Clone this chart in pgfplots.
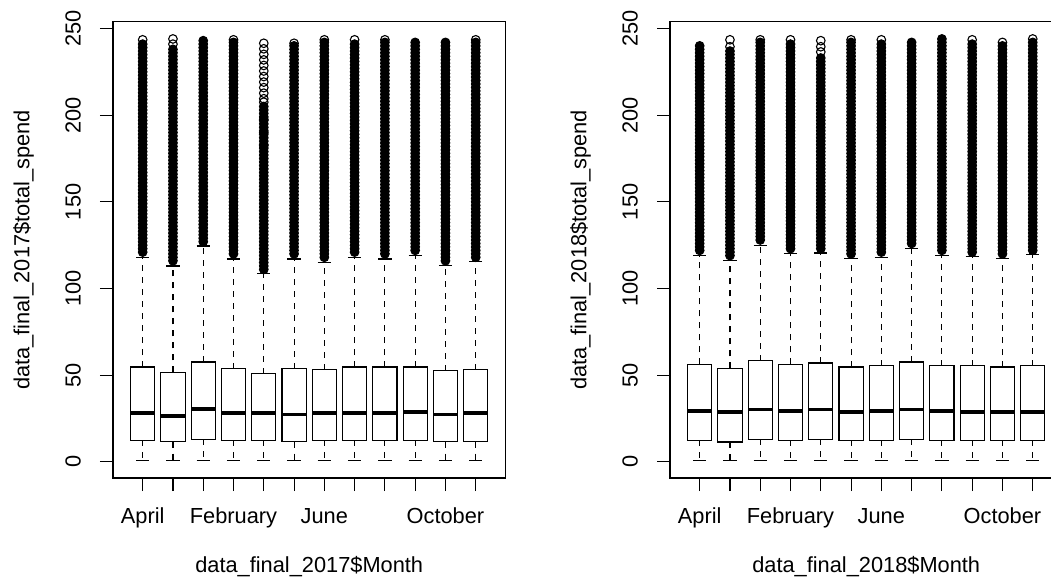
\documentclass[border=0pt]{standalone}
\usepackage{fontspec}
\setmainfont{Liberation Sans}
\usepackage{pgfplots}
\usepgfplotslibrary{statistics}
\pgfplotsset{compat=1.18}
\newcommand{\rfont}{\fontsize{21.8}{25}\selectfont}
\pgfplotsset{
  boxplot/draw/box/.code={\draw[line width=1.1pt] (boxplot box cs:\pgfplotsboxplotvalue{lower quartile},0) rectangle (boxplot box cs:\pgfplotsboxplotvalue{upper quartile},1);},
  boxplot/draw/median/.code={\draw[line width=3.6pt] (boxplot box cs:\pgfplotsboxplotvalue{median},0) -- (boxplot box cs:\pgfplotsboxplotvalue{median},1);},
  boxplot/draw/upper whisker/.code={%
    \draw[line width=1.1pt, dash pattern=on 6pt off 6pt] (boxplot box cs:\pgfplotsboxplotvalue{upper quartile},0.5) -- (boxplot box cs:\pgfplotsboxplotvalue{upper whisker},0.5);
    \draw[line width=1.1pt] (boxplot whisker cs:\pgfplotsboxplotvalue{upper whisker},0) -- (boxplot whisker cs:\pgfplotsboxplotvalue{upper whisker},1);},
  boxplot/draw/lower whisker/.code={%
    \draw[line width=1.1pt, dash pattern=on 6pt off 6pt] (boxplot box cs:\pgfplotsboxplotvalue{lower quartile},0.5) -- (boxplot box cs:\pgfplotsboxplotvalue{lower whisker},0.5);
    \draw[line width=1.1pt] (boxplot whisker cs:\pgfplotsboxplotvalue{lower whisker},0) -- (boxplot whisker cs:\pgfplotsboxplotvalue{lower whisker},1);},
  rpanel/.style={
    scale only axis, width=392.4pt, height=456.3pt,
    anchor=south west,
    xmin=0.02, xmax=12.98, ymin=-9.35, ymax=253.95,
    axis line style={line width=1.1pt},
    tick style={line width=1.1pt, black},
    tick align=outside, major tick length=13pt,
    tick pos=left,
    xtick={1,...,12},
    xticklabels={April,,,February,,,June,,,,October,},
    ytick={0,50,100,150,200,250},
    /pgf/number format/assume math mode=true,
    tick label style={font=\rfont},
    label style={font=\rfont},
    xticklabel style={anchor=base, inner sep=0pt, yshift=-32.5pt},
    yticklabel style={rotate=90, anchor=south, inner xsep=0pt, inner ysep=19pt},
    xlabel style={at={(axis description cs:0.5,0)}, anchor=base, inner sep=0pt, yshift=-94pt},
    ylabel style={at={(axis description cs:0,0.5)}, anchor=south, inner xsep=0pt, inner ysep=79pt},
    boxplot/draw direction=y,
    boxplot/box extend=0.8,
    boxplot/whisker extend=0.44,
  },
  rb/.style={black, mark=*, mark size=4.3pt, mark options={line width=1.1pt, fill=black, solid}},
  rh/.style={only marks, black, mark=o, mark size=4.3pt, mark options={line width=1.1pt, solid}},
}
\begin{document}
\begin{tikzpicture}[x=1pt,y=1pt]
\useasboundingbox (0,0) rectangle (1051,578);
\clip (0,0) rectangle (1051,578);
\begin{axis}[rpanel, at={(113pt,100pt)}, xlabel={data\_final\_2017\$Month}, ylabel={data\_final\_2017\$total\_spend}]
% April
\addplot[rb, boxplot prepared={draw position=1, lower whisker=0.6, lower quartile=12.4, median=28.2, upper quartile=54.7, upper whisker=118}] table[row sep=\\,y index=0]{121\\123\\125\\127\\129\\131\\133\\135\\137\\139\\141\\143\\145\\147\\149\\151\\153\\155\\157\\159\\161\\163\\165\\167\\169\\171\\173\\175\\177\\179\\181\\183\\185\\187\\189\\191\\193\\195\\197\\199\\201\\203\\205\\207\\209\\211\\213\\215\\217\\219\\221\\223\\225\\227\\229\\231\\233\\235\\237\\239\\241\\};
% August
\addplot[rb, boxplot prepared={draw position=2, lower whisker=0.6, lower quartile=11.6, median=26.4, upper quartile=51.6, upper whisker=113}] table[row sep=\\,y index=0]{116\\118\\120\\122\\124\\126\\128\\130\\132\\134\\136\\138\\140\\142\\144\\146\\148\\150\\152\\154\\156\\158\\160\\162\\164\\166\\168\\170\\172\\174\\176\\178\\180\\182\\184\\186\\188\\190\\192\\194\\196\\198\\200\\202\\204\\206\\208\\210\\212\\214\\216\\218\\220\\222\\224\\226\\228\\230\\232\\234\\236\\238\\};
% December
\addplot[rb, boxplot prepared={draw position=3, lower whisker=0.6, lower quartile=13.0, median=30.3, upper quartile=57.6, upper whisker=124.5}] table[row sep=\\,y index=0]{127\\129\\131\\133\\135\\137\\139\\141\\143\\145\\147\\149\\151\\153\\155\\157\\159\\161\\163\\165\\167\\169\\171\\173\\175\\177\\179\\181\\183\\185\\187\\189\\191\\193\\195\\197\\199\\201\\203\\205\\207\\209\\211\\213\\215\\217\\219\\221\\223\\225\\227\\229\\231\\233\\235\\237\\239\\241\\243\\};
% February
\addplot[rb, boxplot prepared={draw position=4, lower whisker=0.6, lower quartile=12.4, median=28.2, upper quartile=53.7, upper whisker=117}] table[row sep=\\,y index=0]{120\\122\\124\\126\\128\\130\\132\\134\\136\\138\\140\\142\\144\\146\\148\\150\\152\\154\\156\\158\\160\\162\\164\\166\\168\\170\\172\\174\\176\\178\\180\\182\\184\\186\\188\\190\\192\\194\\196\\198\\200\\202\\204\\206\\208\\210\\212\\214\\216\\218\\220\\222\\224\\226\\228\\230\\232\\234\\236\\238\\240\\242\\};
% January
\addplot[rb, boxplot prepared={draw position=5, lower whisker=0.6, lower quartile=12.4, median=28.2, upper quartile=50.9, upper whisker=108.5}] table[row sep=\\,y index=0]{111\\113\\115\\117\\119\\121\\123\\125\\127\\129\\131\\133\\135\\137\\139\\141\\143\\145\\147\\149\\151\\153\\155\\157\\159\\161\\163\\165\\167\\169\\171\\173\\175\\177\\179\\181\\183\\185\\187\\189\\191\\193\\195\\197\\199\\201\\203\\205\\};
% July
\addplot[rb, boxplot prepared={draw position=6, lower whisker=0.6, lower quartile=11.6, median=27.4, upper quartile=53.7, upper whisker=117}] table[row sep=\\,y index=0]{120\\122\\124\\126\\128\\130\\132\\134\\136\\138\\140\\142\\144\\146\\148\\150\\152\\154\\156\\158\\160\\162\\164\\166\\168\\170\\172\\174\\176\\178\\180\\182\\184\\186\\188\\190\\192\\194\\196\\198\\200\\202\\204\\206\\208\\210\\212\\214\\216\\218\\220\\222\\224\\226\\228\\230\\232\\234\\236\\238\\240\\};
% June
\addplot[rb, boxplot prepared={draw position=7, lower whisker=0.6, lower quartile=12.4, median=28.2, upper quartile=53.2, upper whisker=115}] table[row sep=\\,y index=0]{118\\120\\122\\124\\126\\128\\130\\132\\134\\136\\138\\140\\142\\144\\146\\148\\150\\152\\154\\156\\158\\160\\162\\164\\166\\168\\170\\172\\174\\176\\178\\180\\182\\184\\186\\188\\190\\192\\194\\196\\198\\200\\202\\204\\206\\208\\210\\212\\214\\216\\218\\220\\222\\224\\226\\228\\230\\232\\234\\236\\238\\240\\242\\};
% March
\addplot[rb, boxplot prepared={draw position=8, lower whisker=0.6, lower quartile=12.4, median=28.2, upper quartile=54.7, upper whisker=118}] table[row sep=\\,y index=0]{121\\123\\125\\127\\129\\131\\133\\135\\137\\139\\141\\143\\145\\147\\149\\151\\153\\155\\157\\159\\161\\163\\165\\167\\169\\171\\173\\175\\177\\179\\181\\183\\185\\187\\189\\191\\193\\195\\197\\199\\201\\203\\205\\207\\209\\211\\213\\215\\217\\219\\221\\223\\225\\227\\229\\231\\233\\235\\237\\239\\241\\};
% May
\addplot[rb, boxplot prepared={draw position=9, lower whisker=0.6, lower quartile=12.4, median=28.2, upper quartile=54.7, upper whisker=117}] table[row sep=\\,y index=0]{120\\122\\124\\126\\128\\130\\132\\134\\136\\138\\140\\142\\144\\146\\148\\150\\152\\154\\156\\158\\160\\162\\164\\166\\168\\170\\172\\174\\176\\178\\180\\182\\184\\186\\188\\190\\192\\194\\196\\198\\200\\202\\204\\206\\208\\210\\212\\214\\216\\218\\220\\222\\224\\226\\228\\230\\232\\234\\236\\238\\240\\242\\};
% November
\addplot[rb, boxplot prepared={draw position=10, lower whisker=0.6, lower quartile=12.4, median=28.7, upper quartile=54.7, upper whisker=119}] table[row sep=\\,y index=0]{122\\124\\126\\128\\130\\132\\134\\136\\138\\140\\142\\144\\146\\148\\150\\152\\154\\156\\158\\160\\162\\164\\166\\168\\170\\172\\174\\176\\178\\180\\182\\184\\186\\188\\190\\192\\194\\196\\198\\200\\202\\204\\206\\208\\210\\212\\214\\216\\218\\220\\222\\224\\226\\228\\230\\232\\234\\236\\238\\240\\242\\};
% October
\addplot[rb, boxplot prepared={draw position=11, lower whisker=0.6, lower quartile=11.6, median=27.4, upper quartile=52.6, upper whisker=113.5}] table[row sep=\\,y index=0]{116\\118\\120\\122\\124\\126\\128\\130\\132\\134\\136\\138\\140\\142\\144\\146\\148\\150\\152\\154\\156\\158\\160\\162\\164\\166\\168\\170\\172\\174\\176\\178\\180\\182\\184\\186\\188\\190\\192\\194\\196\\198\\200\\202\\204\\206\\208\\210\\212\\214\\216\\218\\220\\222\\224\\226\\228\\230\\232\\234\\236\\238\\240\\242\\};
% September
\addplot[rb, boxplot prepared={draw position=12, lower whisker=0.6, lower quartile=11.6, median=28.2, upper quartile=53.2, upper whisker=115.5}] table[row sep=\\,y index=0]{118\\120\\122\\124\\126\\128\\130\\132\\134\\136\\138\\140\\142\\144\\146\\148\\150\\152\\154\\156\\158\\160\\162\\164\\166\\168\\170\\172\\174\\176\\178\\180\\182\\184\\186\\188\\190\\192\\194\\196\\198\\200\\202\\204\\206\\208\\210\\212\\214\\216\\218\\220\\222\\224\\226\\228\\230\\232\\234\\236\\238\\240\\242\\};
% sparse outliers drawn as open circles
\addplot[rh] coordinates {(1,243.5) (2,241) (2,244) (4,243.5)
 (5,182.5) (5,190) (5,197.5) (5,207.5)
 (5,209.5) (5,212.7) (5,215.9) (5,219.1) (5,222.3) (5,225.5) (5,228.7) (5,231.9) (5,235.1) (5,238.3) (5,241.5)
 (6,241.5) (7,243.5) (8,243.5) (9,243.5) (12,243.5)};
\end{axis}
\begin{axis}[rpanel, at={(670pt,100pt)}, xlabel={data\_final\_2018\$Month}, ylabel={data\_final\_2018\$total\_spend}]
% April
\addplot[rb, boxplot prepared={draw position=1, lower whisker=0.6, lower quartile=12.4, median=29.3, upper quartile=56.2, upper whisker=119}] table[row sep=\\,y index=0]{122\\124\\126\\128\\130\\132\\134\\136\\138\\140\\142\\144\\146\\148\\150\\152\\154\\156\\158\\160\\162\\164\\166\\168\\170\\172\\174\\176\\178\\180\\182\\184\\186\\188\\190\\192\\194\\196\\198\\200\\202\\204\\206\\208\\210\\212\\214\\216\\218\\220\\222\\224\\226\\228\\230\\232\\234\\236\\238\\240\\};
% August
\addplot[rb, boxplot prepared={draw position=2, lower whisker=0.6, lower quartile=11.4, median=28.7, upper quartile=53.9, upper whisker=116}] table[row sep=\\,y index=0]{119\\121\\123\\125\\127\\129\\131\\133\\135\\137\\139\\141\\143\\145\\147\\149\\151\\153\\155\\157\\159\\161\\163\\165\\167\\169\\171\\173\\175\\177\\179\\181\\183\\185\\187\\189\\191\\193\\195\\197\\199\\201\\203\\205\\207\\209\\211\\213\\215\\217\\219\\221\\223\\225\\227\\229\\231\\233\\235\\237\\};
% December
\addplot[rb, boxplot prepared={draw position=3, lower whisker=0.6, lower quartile=13.0, median=30.1, upper quartile=58.4, upper whisker=125}] table[row sep=\\,y index=0]{128\\130\\132\\134\\136\\138\\140\\142\\144\\146\\148\\150\\152\\154\\156\\158\\160\\162\\164\\166\\168\\170\\172\\174\\176\\178\\180\\182\\184\\186\\188\\190\\192\\194\\196\\198\\200\\202\\204\\206\\208\\210\\212\\214\\216\\218\\220\\222\\224\\226\\228\\230\\232\\234\\236\\238\\240\\242\\};
% February
\addplot[rb, boxplot prepared={draw position=4, lower whisker=0.6, lower quartile=12.4, median=29.3, upper quartile=56.2, upper whisker=120}] table[row sep=\\,y index=0]{123\\125\\127\\129\\131\\133\\135\\137\\139\\141\\143\\145\\147\\149\\151\\153\\155\\157\\159\\161\\163\\165\\167\\169\\171\\173\\175\\177\\179\\181\\183\\185\\187\\189\\191\\193\\195\\197\\199\\201\\203\\205\\207\\209\\211\\213\\215\\217\\219\\221\\223\\225\\227\\229\\231\\233\\235\\237\\239\\241\\};
% January
\addplot[rb, boxplot prepared={draw position=5, lower whisker=0.6, lower quartile=13.0, median=30.1, upper quartile=57.0, upper whisker=120.5}] table[row sep=\\,y index=0]{123\\125\\127\\129\\131\\133\\135\\137\\139\\141\\143\\145\\147\\149\\151\\153\\155\\157\\159\\161\\163\\165\\167\\169\\171\\173\\175\\177\\179\\181\\183\\185\\187\\189\\191\\193\\195\\197\\199\\201\\203\\205\\207\\209\\211\\213\\215\\217\\219\\221\\223\\225\\227\\229\\231\\233\\};
% July
\addplot[rb, boxplot prepared={draw position=6, lower whisker=0.6, lower quartile=12.4, median=28.7, upper quartile=54.7, upper whisker=117.5}] table[row sep=\\,y index=0]{120\\122\\124\\126\\128\\130\\132\\134\\136\\138\\140\\142\\144\\146\\148\\150\\152\\154\\156\\158\\160\\162\\164\\166\\168\\170\\172\\174\\176\\178\\180\\182\\184\\186\\188\\190\\192\\194\\196\\198\\200\\202\\204\\206\\208\\210\\212\\214\\216\\218\\220\\222\\224\\226\\228\\230\\232\\234\\236\\238\\240\\242\\};
% June
\addplot[rb, boxplot prepared={draw position=7, lower whisker=0.6, lower quartile=12.4, median=29.3, upper quartile=55.5, upper whisker=118}] table[row sep=\\,y index=0]{121\\123\\125\\127\\129\\131\\133\\135\\137\\139\\141\\143\\145\\147\\149\\151\\153\\155\\157\\159\\161\\163\\165\\167\\169\\171\\173\\175\\177\\179\\181\\183\\185\\187\\189\\191\\193\\195\\197\\199\\201\\203\\205\\207\\209\\211\\213\\215\\217\\219\\221\\223\\225\\227\\229\\231\\233\\235\\237\\239\\241\\};
% March
\addplot[rb, boxplot prepared={draw position=8, lower whisker=0.6, lower quartile=13.0, median=30.1, upper quartile=57.6, upper whisker=123}] table[row sep=\\,y index=0]{126\\128\\130\\132\\134\\136\\138\\140\\142\\144\\146\\148\\150\\152\\154\\156\\158\\160\\162\\164\\166\\168\\170\\172\\174\\176\\178\\180\\182\\184\\186\\188\\190\\192\\194\\196\\198\\200\\202\\204\\206\\208\\210\\212\\214\\216\\218\\220\\222\\224\\226\\228\\230\\232\\234\\236\\238\\240\\242\\};
% May
\addplot[rb, boxplot prepared={draw position=9, lower whisker=0.6, lower quartile=12.4, median=29.3, upper quartile=55.5, upper whisker=119}] table[row sep=\\,y index=0]{122\\124\\126\\128\\130\\132\\134\\136\\138\\140\\142\\144\\146\\148\\150\\152\\154\\156\\158\\160\\162\\164\\166\\168\\170\\172\\174\\176\\178\\180\\182\\184\\186\\188\\190\\192\\194\\196\\198\\200\\202\\204\\206\\208\\210\\212\\214\\216\\218\\220\\222\\224\\226\\228\\230\\232\\234\\236\\238\\240\\242\\244\\};
% November
\addplot[rb, boxplot prepared={draw position=10, lower whisker=0.6, lower quartile=12.4, median=28.7, upper quartile=55.5, upper whisker=118.5}] table[row sep=\\,y index=0]{121\\123\\125\\127\\129\\131\\133\\135\\137\\139\\141\\143\\145\\147\\149\\151\\153\\155\\157\\159\\161\\163\\165\\167\\169\\171\\173\\175\\177\\179\\181\\183\\185\\187\\189\\191\\193\\195\\197\\199\\201\\203\\205\\207\\209\\211\\213\\215\\217\\219\\221\\223\\225\\227\\229\\231\\233\\235\\237\\239\\241\\};
% October
\addplot[rb, boxplot prepared={draw position=11, lower whisker=0.6, lower quartile=12.4, median=28.7, upper quartile=54.7, upper whisker=117.5}] table[row sep=\\,y index=0]{120\\122\\124\\126\\128\\130\\132\\134\\136\\138\\140\\142\\144\\146\\148\\150\\152\\154\\156\\158\\160\\162\\164\\166\\168\\170\\172\\174\\176\\178\\180\\182\\184\\186\\188\\190\\192\\194\\196\\198\\200\\202\\204\\206\\208\\210\\212\\214\\216\\218\\220\\222\\224\\226\\228\\230\\232\\234\\236\\238\\240\\};
% September
\addplot[rb, boxplot prepared={draw position=12, lower whisker=0.6, lower quartile=12.4, median=28.7, upper quartile=55.5, upper whisker=119.5}] table[row sep=\\,y index=0]{122\\124\\126\\128\\130\\132\\134\\136\\138\\140\\142\\144\\146\\148\\150\\152\\154\\156\\158\\160\\162\\164\\166\\168\\170\\172\\174\\176\\178\\180\\182\\184\\186\\188\\190\\192\\194\\196\\198\\200\\202\\204\\206\\208\\210\\212\\214\\216\\218\\220\\222\\224\\226\\228\\230\\232\\234\\236\\238\\240\\242\\};
% sparse outliers drawn as open circles
\addplot[rh] coordinates {(2,239.5) (2,243.5) (3,243.5) (4,243.5)
 (5,236.5) (5,239.5) (5,243) (6,243.5) (7,243.5) (10,243.5) (11,242) (12,244)};
\end{axis}
\end{tikzpicture}
\end{document}
